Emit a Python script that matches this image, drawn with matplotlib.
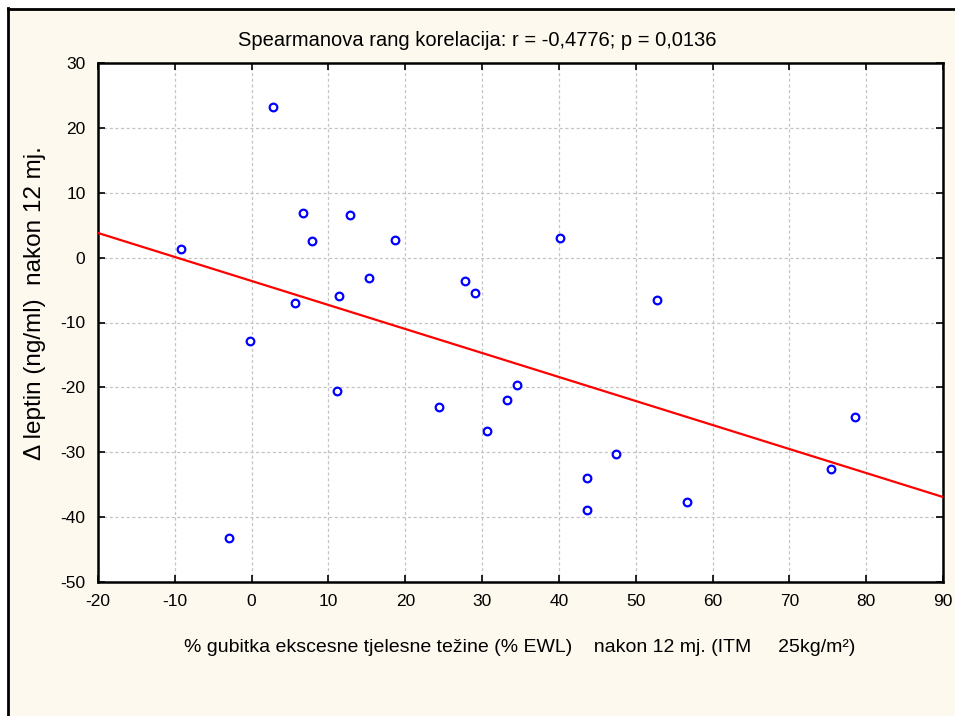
import matplotlib
matplotlib.use("Agg")
import matplotlib.pyplot as plt
import numpy as np
from matplotlib.patches import Rectangle
from matplotlib.lines import Line2D

# Data
ewl_pct = [-9.2, -0.2, -2.9, 2.8, 6.7, 7.8, 5.7, 12.8, 11.4, 11.1, 15.3, 18.7, 24.4,
           27.8, 29.1, 30.6, 33.3, 34.6, 40.1, 43.7, 43.7, 47.4, 52.8, 56.7, 75.4, 78.5]
delta_leptin = [1.3, -12.8, -43.2, 23.2, 6.9, 2.6, -7.0, 6.6, -5.9, -20.6, -3.1, 2.7, -23.1,
                -3.6, -5.4, -26.8, -21.9, -19.7, 3.0, -33.9, -38.9, -30.2, -6.5, -37.6, -32.6, -24.6]
fit_intercept = -3.6
fit_slope = -0.37
x_ticks = [-20, -10, 0, 10, 20, 30, 40, 50, 60, 70, 80, 90]
y_ticks = [-50, -40, -30, -20, -10, 0, 10, 20, 30]

title_text = "Spearmanova rang korelacija: r = -0,4776; p = 0,0136"
xlabel_text = "% gubitka ekscesne tjelesne težine (% EWL)    nakon 12 mj. (ITM     25kg/m\u00b2)"
ylabel_text = "\u0394 leptin (ng/ml)  nakon 12 mj."

plt.rcParams['font.family'] = ['Liberation Sans', 'DejaVu Sans']

W, H = 955, 716
fig = plt.figure(figsize=(W / 100, H / 100), dpi=100)
fig.patch.set_facecolor('white')
cream = '#FEF9EE'
fig.patches.append(Rectangle((8 / W, 0), 1 - 8 / W, 1 - 8 / H, transform=fig.transFigure,
                             facecolor=cream, edgecolor='none', zorder=-10))
fig.lines.append(Line2D([7.5 / W, 7.5 / W], [0, 1 - 7.5 / H], transform=fig.transFigure,
                        color='black', lw=2))
fig.lines.append(Line2D([7.5 / W, 1], [1 - 8.5 / H, 1 - 8.5 / H], transform=fig.transFigure,
                        color='black', lw=2))

ax = fig.add_axes([98 / W, 1 - 582 / H, (943 - 98) / W, (582 - 63) / H])
ax.set_facecolor('white')
ax.set_xlim(-20, 90)
ax.set_ylim(-50, 30)
ax.set_xticks(x_ticks)
ax.set_yticks(y_ticks)
ax.set_xticklabels([str(v) for v in x_ticks], fontsize=12.5)
ax.set_yticklabels([str(v) for v in y_ticks], fontsize=12.5)
ax.tick_params(direction='in', length=5, width=1.2, top=True, right=True, pad=9, colors='black')
ax.grid(True, color='#c4c4c4', linestyle=(0, (2.5, 2)), linewidth=0.9)
ax.set_axisbelow(True)
for s in ax.spines.values():
    s.set_linewidth(1.8)
    s.set_color('black')

xs = np.array([-20, 90])
ax.plot(xs, fit_intercept + fit_slope * xs, color='#ff0000', lw=1.6, zorder=3, clip_on=True)
ax.plot(ewl_pct, delta_leptin, linestyle='none', marker='o', markersize=5.5,
        markerfacecolor='white', markeredgecolor='#0000ff', markeredgewidth=1.6, zorder=4)

fig.text(0.4995, 1 - 40 / H, title_text, ha='center', va='center', fontsize=14.5)
fig.text(0.5445, 1 - 648 / H, xlabel_text, ha='center', va='center', fontsize=14)
fig.text(35 / W, 1 - 303 / H, ylabel_text, ha='center', va='center', rotation=90, fontsize=17.5)

fig.savefig('out.png', dpi=100, facecolor=fig.get_facecolor())
